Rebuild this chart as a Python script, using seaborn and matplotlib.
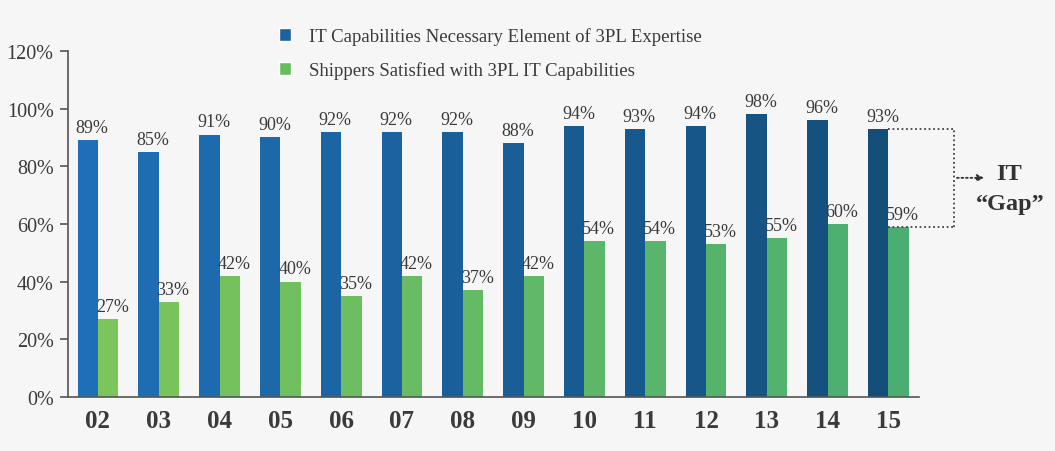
import numpy as np
import pandas as pd
import matplotlib
matplotlib.use("Agg")
import matplotlib.pyplot as plt
from matplotlib.patches import Patch
from matplotlib.colors import to_rgb
import seaborn as sns

# data
years = ["02", "03", "04", "05", "06", "07", "08", "09", "10", "11", "12", "13", "14", "15"]
it_needed = [89, 85, 91, 90, 92, 92, 92, 88, 94, 93, 94, 98, 96, 93]
shippers_ok = [27, 33, 42, 40, 35, 42, 37, 42, 54, 54, 53, 55, 60, 59]
series_names = ["IT Capabilities Necessary Element of 3PL Expertise",
                "Shippers Satisfied with 3PL IT Capabilities"]
y_ticks = [0, 20, 40, 60, 80, 100, 120]

df = pd.DataFrame({
    "year": years * 2,
    "value": it_needed + shippers_ok,
    "series": [series_names[0]] * len(years) + [series_names[1]] * len(years),
})

sns.set_theme(style="white")
plt.rcParams["font.family"] = ["Liberation Serif", "DejaVu Serif"]
bg = "#f6f6f6"
txt = "#3a3a3a"

fig = plt.figure(figsize=(10.55, 4.52), dpi=100, facecolor=bg)
ax = fig.add_axes([0.064, 0.1195, 0.807, 0.7655], facecolor=bg)

blue_a, blue_b = "#1f6fb8", "#134f79"
green_a, green_b = "#7cc55a", "#4aae72"
sns.barplot(data=df, x="year", y="value", hue="series", order=years,
            hue_order=series_names, palette=[blue_a, green_a],
            width=0.67, gap=0, saturation=1, legend=False, ax=ax)

# colours drift darker from left to right, as in the original
def ramp(c1, c2, n):
    a, b = np.array(to_rgb(c1)), np.array(to_rgb(c2))
    return [tuple(a + (b - a) * t) for t in np.linspace(0, 1, n)]

for cont, cols in zip(ax.containers, [ramp(blue_a, blue_b, len(years)),
                                      ramp(green_a, green_b, len(years))]):
    for p, c in zip(cont.patches, cols):
        p.set_facecolor(c)
        p.set_edgecolor("none")
        # value label, nudged a little right like the original
        ax.annotate(f"{p.get_height():.0f}%", (p.get_x() + p.get_width() / 2, p.get_height()),
                    xytext=(3, 3), textcoords="offset points", ha="center", va="bottom",
                    fontsize=13, color=txt)

ax.set_ylim(0, 120)
ax.set_xlim(-0.5, len(years) - 0.5)
ax.set_yticks(y_ticks)
ax.set_yticklabels([f"{v}%" for v in y_ticks], fontsize=14.5, color=txt)
ax.set_xticks(np.arange(len(years)))
ax.set_xticklabels(years, fontsize=18, fontweight="bold", color=txt)
ax.set_xticks(np.arange(len(years) + 1) - 0.5, minor=True)
ax.tick_params(axis="x", which="major", length=0, pad=9)
ax.tick_params(axis="x", which="minor", length=6, width=1.2, color="#555555", direction="out")
ax.tick_params(axis="y", length=6, width=1.2, color="#555555", direction="out", left=True, pad=4)
ax.set_xlabel("")
ax.set_ylabel("")
for s in ["top", "right"]:
    ax.spines[s].set_visible(False)
for s in ["left", "bottom"]:
    ax.spines[s].set_color("#555555")
    ax.spines[s].set_linewidth(1.2)

# IT gap bracket
last = len(years) - 1
x0, x1 = last, last + 1.08
kw = dict(color="#444444", lw=1.3, ls=(0, (1, 1.5)), clip_on=False)
ax.plot([x0, x1], [it_needed[-1], it_needed[-1]], **kw)
ax.plot([x0, x1], [shippers_ok[-1], shippers_ok[-1]], **kw)
ax.plot([x1, x1], [shippers_ok[-1], it_needed[-1]], **kw)
ax.annotate("", xy=(last + 1.62, 76), xytext=(x1, 76), annotation_clip=False,
            arrowprops=dict(arrowstyle="-|>", color="#333333", lw=1.3, ls=(0, (1, 1.5)),
                            mutation_scale=10))
ax.text(last + 1.98, 77.5, "IT", ha="center", va="center", fontsize=17.5,
        fontweight="bold", color="#333333", clip_on=False)
ax.text(last + 2.0, 67, "\u201cGap\u201d", ha="center", va="center", fontsize=17.5,
        fontweight="bold", color="#333333", clip_on=False)

handles = [Patch(facecolor="#1a62a0"), Patch(facecolor="#66bd5e")]
fig.legend(handles, series_names, loc="upper left", bbox_to_anchor=(0.248, 0.975),
           frameon=False, fontsize=13.5, labelcolor=txt, handlelength=0.65,
           handleheight=0.65, handletextpad=1.0, labelspacing=0.85)

fig.savefig("out.png", dpi=100, facecolor=bg)
